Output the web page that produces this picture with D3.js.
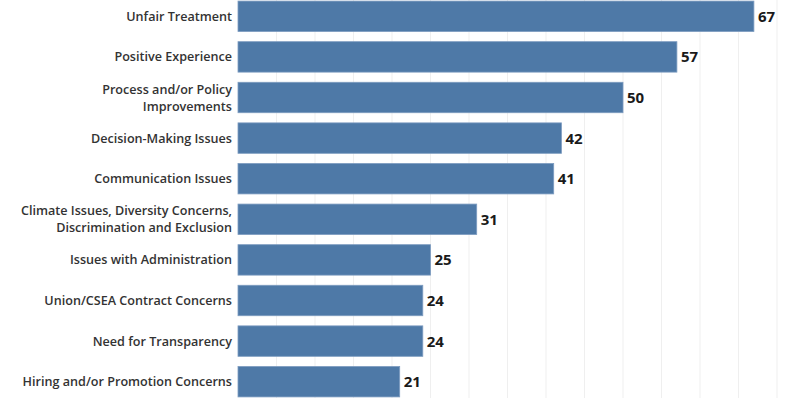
<!DOCTYPE html>
<html>
<head>
<meta charset="utf-8">
<script src="https://cdn.jsdelivr.net/npm/d3@7"></script>
<style>
  body { margin: 0; background: #fff; }
  svg { display: block; }
</style>
</head>
<body>
<script>
var categories = [
  ["Unfair Treatment"],
  ["Positive Experience"],
  ["Process and/or Policy", "Improvements"],
  ["Decision-Making Issues"],
  ["Communication Issues"],
  ["Climate Issues, Diversity Concerns,", "Discrimination and Exclusion"],
  ["Issues with Administration"],
  ["Union/CSEA Contract Concerns"],
  ["Need for Transparency"],
  ["Hiring and/or Promotion Concerns"]
];
var counts = [67, 57, 50, 42, 41, 31, 25, 24, 24, 21];
var gridTicks = [0, 5, 10, 15, 20, 25, 30, 35, 40, 45, 50, 55, 60, 65, 70];

var width = 795, height = 398;
var left = 238;

var svg = d3.select("body").append("svg")
  .attr("width", width)
  .attr("height", height);

var x = d3.scaleLinear()
  .domain([0, 70])
  .range([left, left + 70 * 7.7]);

var y = d3.scaleBand()
  .domain(d3.range(categories.length))
  .range([-4, 402])
  .paddingInner(0.25)
  .paddingOuter(0.125);

// faint vertical gridlines
svg.append("g").selectAll("line")
  .data(gridTicks.slice(1))
  .enter().append("line")
  .attr("x1", function(d) { return x(d); })
  .attr("x2", function(d) { return x(d); })
  .attr("y1", 0)
  .attr("y2", height)
  .attr("stroke", "#efefef")
  .attr("stroke-width", 1);

svg.append("g").selectAll("rect")
  .data(counts)
  .enter().append("rect")
  .attr("x", x(0))
  .attr("y", function(d, i) { return y(i); })
  .attr("width", function(d) { return x(d) - x(0); })
  .attr("height", y.bandwidth())
  .attr("fill", "#4e79a7")
  .attr("stroke", "#7d9cc0")
  .attr("stroke-width", 0.8);

// value labels
svg.append("g").selectAll("text")
  .data(counts)
  .enter().append("text")
  .attr("x", function(d) { return x(d) + 4; })
  .attr("y", function(d, i) { return y(i) + y.bandwidth() / 2; })
  .attr("dy", "0.36em")
  .attr("font-family", "'Open Sans', sans-serif")
  .attr("font-weight", 700)
  .attr("font-size", 15)
  .attr("fill", "#1a1a1a")
  .text(function(d) { return d; });

// category labels
var cat = svg.append("g").selectAll("text")
  .data(categories)
  .enter().append("text")
  .attr("text-anchor", "end")
  .attr("font-family", "'Open Sans', sans-serif")
  .attr("font-weight", 600)
  .attr("font-size", 12.6)
  .attr("fill", "#333");

cat.selectAll("tspan")
  .data(function(d, i) {
    return d.map(function(t, j) { return { t: t, j: j, n: d.length, i: i }; });
  })
  .enter().append("tspan")
  .attr("x", left - 6)
  .attr("y", function(d) {
    return y(d.i) + y.bandwidth() / 2 + (d.j - (d.n - 1) / 2) * 17;
  })
  .attr("dy", "0.36em")
  .text(function(d) { return d.t; });
</script>
</body>
</html>
